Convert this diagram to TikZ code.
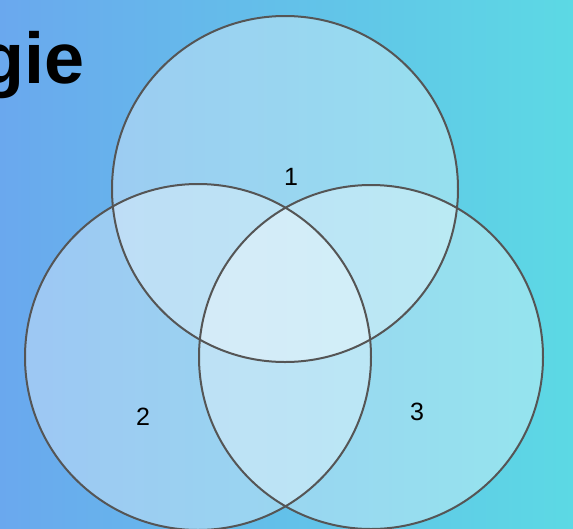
\documentclass[tikz,border=0pt]{standalone}
\usepackage{fontspec}
\setmainfont{Liberation Sans}
\usetikzlibrary{calc}
\definecolor{bgleft}{HTML}{6AA8EE}
\definecolor{bgright}{HTML}{5CD9E4}
\definecolor{rimgray}{HTML}{555555}
\tikzset{
  vennfill/.style={fill=white, fill opacity=0.35},
  vennrim/.style={draw=rimgray, line width=2pt},
  setlabel/.style={font=\fontsize{25}{25}\selectfont, text=black}
}
\begin{document}
\begin{tikzpicture}[x=1pt, y=-1pt]
  % background
  \useasboundingbox (0,0) rectangle (573,528);
  \clip (0,0) rectangle (573,528);
  \shade[left color=bgleft, right color=bgright] (0,0) rectangle (573,528);

  % title, cut at the left edge
  \node[anchor=base west, inner sep=0pt, font=\fontsize{72}{72}\selectfont\bfseries] (title) at (-20,83) {gie};

  % the three sets: fills first, rims on top
  \foreach \cx/\cy/\r in {285/189/173, 198/357/173, 371/357/172}
    \fill[vennfill] (\cx,\cy) circle (\r);
  \foreach \cx/\cy/\r in {285/189/173, 198/357/173, 371/357/172}
    \draw[vennrim] (\cx,\cy) circle (\r);

  \node[setlabel] (one) at (291,177) {1};
  \node[setlabel] (two) at (143,417) {2};
  \node[setlabel] (three) at (417,412) {3};
\end{tikzpicture}
\end{document}
